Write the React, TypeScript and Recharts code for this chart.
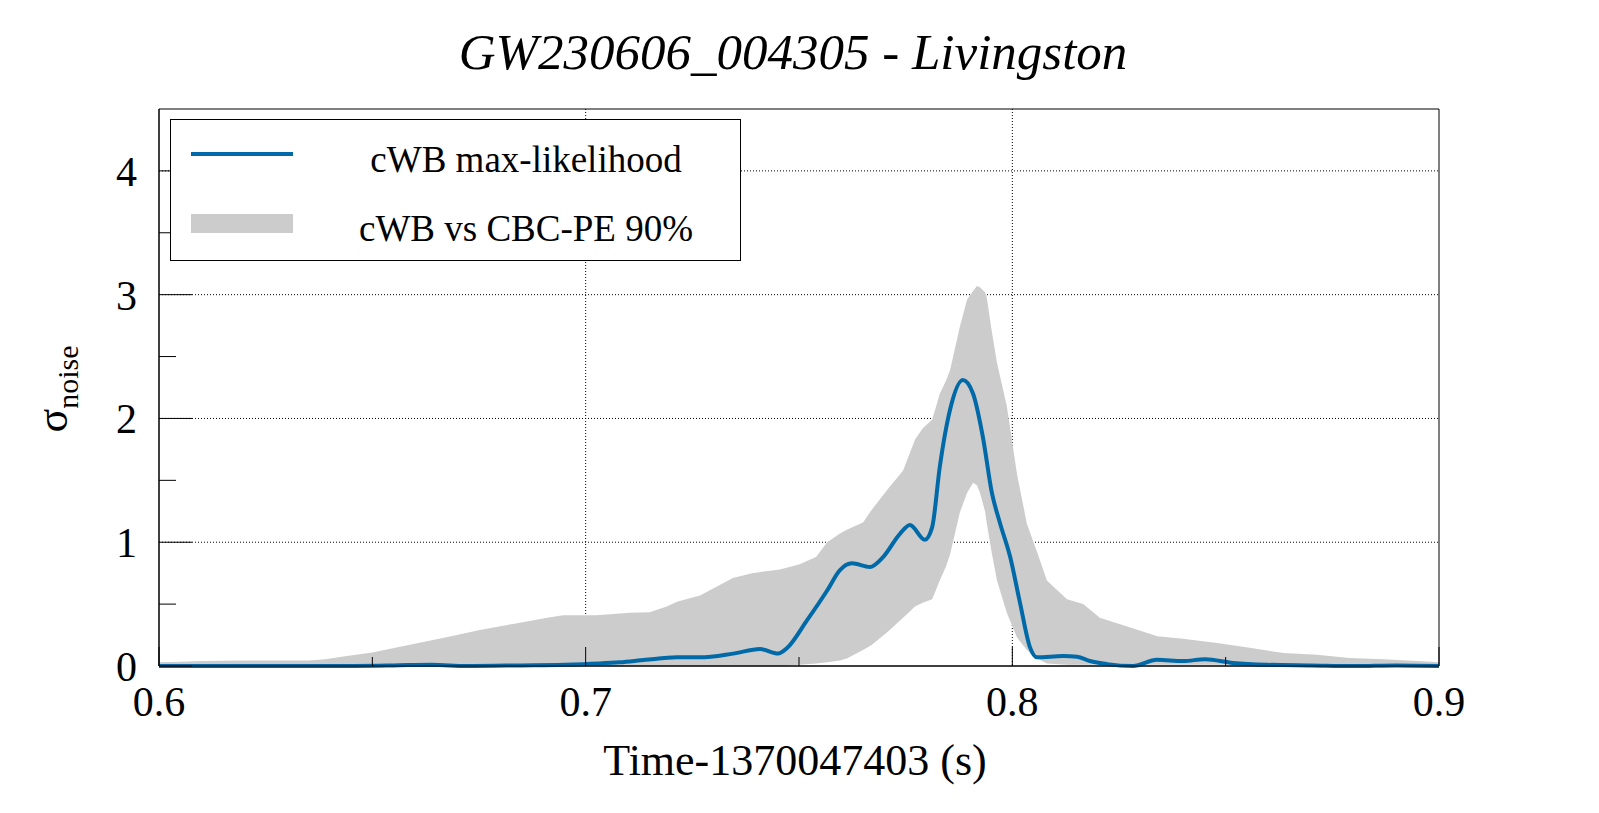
import { ComposedChart, Area, Line, XAxis, YAxis, CartesianGrid, Legend, ReferenceArea } from 'recharts';

const FONT = '"Liberation Serif", "Times New Roman", serif';

// axis ticks (major ones get a label)
const xMajorTicks = [0.6, 0.7, 0.8, 0.9];
const xMinorTicks = [0.65, 0.75, 0.85];
const yMajorTicks = [0, 1, 2, 3, 4];
const yMinorTicks = [0.5, 1.5, 2.5, 3.5];
const xGridLines = [0.7, 0.8];
const yGridLines = [1, 2, 3, 4];

// cWB vs CBC-PE 90% band
const bandTime = [
  0.6, 0.605, 0.61, 0.62, 0.635, 0.639, 0.644, 0.65, 0.6565, 0.6628, 0.669, 0.6752, 0.683, 0.691, 0.6947,
  0.7026, 0.7104, 0.715, 0.719, 0.7214, 0.7268, 0.7345, 0.739, 0.7455, 0.75, 0.754, 0.7566, 0.7596, 0.7612,
  0.765, 0.767, 0.7706, 0.7744, 0.7772, 0.779, 0.7812, 0.783, 0.7844, 0.7854, 0.7877, 0.7894, 0.7908,
  0.7917, 0.7924, 0.7936, 0.794, 0.7952, 0.7964, 0.7987, 0.8011, 0.8034, 0.8058, 0.8081, 0.8128, 0.8166,
  0.8205, 0.826, 0.834, 0.84, 0.848, 0.856, 0.8635, 0.8714, 0.879, 0.887, 0.895, 0.9,
];
const bandHigh = [
  0.03, 0.035, 0.04, 0.045, 0.045, 0.055, 0.08, 0.11, 0.155, 0.2, 0.245, 0.29, 0.34, 0.39, 0.41,
  0.41, 0.43, 0.435, 0.48, 0.52, 0.57, 0.71, 0.75, 0.78, 0.82, 0.88, 1.0, 1.07, 1.1,
  1.16, 1.26, 1.42, 1.58, 1.83, 1.92, 1.99, 2.2, 2.3, 2.39, 2.74, 2.96, 3.03,
  3.07, 3.06, 3.02, 2.98, 2.7, 2.45, 2.1, 1.55, 1.15, 0.92, 0.69, 0.54, 0.5,
  0.39, 0.33, 0.24, 0.22, 0.185, 0.145, 0.105, 0.09, 0.065, 0.055, 0.04, 0.03,
];
const bandLow = [
  0, 0, 0, 0, 0, 0, 0, 0, 0, 0, 0, 0, 0, 0, 0,
  0, 0, 0, 0, 0, 0, 0, 0, 0, 0.01, 0.02, 0.03, 0.045, 0.06,
  0.13, 0.17, 0.27, 0.39, 0.48, 0.51, 0.54, 0.69, 0.8, 0.9, 1.24, 1.4, 1.48,
  1.46, 1.4, 1.25, 1.155, 0.91, 0.69, 0.43, 0.23, 0.13, 0.06, 0.02, 0.01, 0.01,
  0.01, 0.01, 0.01, 0.01, 0.01, 0.01, 0.01, 0.005, 0.005, 0, 0, 0,
];

// cWB max-likelihood
const lineTime = [
  0.6, 0.62, 0.64, 0.655, 0.664, 0.672, 0.685, 0.695, 0.703, 0.708, 0.714, 0.7214, 0.7268, 0.7345,
  0.7409, 0.7451, 0.7472, 0.7519, 0.7566, 0.7596, 0.7624, 0.7666, 0.7697, 0.7737, 0.776, 0.7795,
  0.7812, 0.783, 0.7854, 0.7884, 0.7908, 0.7931, 0.7952, 0.7971, 0.7995, 0.8018, 0.8041, 0.8058,
  0.8119, 0.8152, 0.8182, 0.8222, 0.8283, 0.8339, 0.84, 0.8452, 0.8517, 0.8597, 0.87, 0.88, 0.89, 0.9,
];
const lineValue = [
  0, 0, 0, 0.005, 0.01, 0, 0.005, 0.01, 0.02, 0.03, 0.05, 0.07, 0.07, 0.1,
  0.137, 0.1, 0.145, 0.37, 0.61, 0.775, 0.83, 0.8, 0.88, 1.07, 1.14, 1.02,
  1.12, 1.61, 2.07, 2.31, 2.2, 1.85, 1.4, 1.155, 0.88, 0.51, 0.155, 0.07,
  0.08, 0.075, 0.04, 0.015, 0, 0.05, 0.04, 0.055, 0.025, 0.01, 0.005, 0, 0.005, 0,
];

const xTicks = [...xMajorTicks, ...xMinorTicks].sort((a, b) => a - b);
const yTicks = [...yMajorTicks, ...yMinorTicks].sort((a, b) => a - b);

type Row = { t: number; lo?: number; hi?: number; v?: number };

const rows: Row[] = [
  ...bandTime.map((t, i) => ({ t, lo: bandLow[i], hi: bandHigh[i] })),
  ...lineTime.map((t, i) => ({ t, v: lineValue[i] })),
].sort((a, b) => a.t - b.t);

const bandKey = (d: Row) => (d.hi == null ? [null, null] : [d.lo, d.hi]);

const renderXTick = (props: any) => {
  const { x, y, payload } = props;
  const major = xMajorTicks.includes(payload.value);
  const axisY = y - 20;
  return (
    <g>
      <line x1={x} x2={x} y1={axisY} y2={axisY - (major ? 19 : 9)} stroke="#000" />
      {major && (
        <text x={x} y={y} dy="0.71em" textAnchor="middle" fontSize={42} fontFamily={FONT} fill="#000">
          {payload.value.toFixed(1)}
        </text>
      )}
    </g>
  );
};

const renderYTick = (props: any) => {
  const { x, y, payload } = props;
  const major = yMajorTicks.includes(payload.value);
  const axisX = x + 22;
  return (
    <g>
      <line x1={axisX} x2={axisX + (major ? 33 : 17)} y1={y} y2={y} stroke="#000" />
      {major && (
        <text x={x} y={y} dy="0.355em" textAnchor="end" fontSize={42} fontFamily={FONT} fill="#000">
          {String(payload.value)}
        </text>
      )}
    </g>
  );
};

const renderLegend = (props: any) => {
  const entries = [...(props.payload ?? [])].sort(
    (a: any, b: any) => (a.type === 'line' ? 0 : 1) - (b.type === 'line' ? 0 : 1)
  );
  return (
    <svg width={571} height={142} style={{ display: 'block' }}>
      <rect x={0.5} y={0.5} width={570} height={141} fill="#fff" stroke="#000" />
      {entries.map((e: any, i: number) => {
        const cy = 35 + i * 69;
        return (
          <g key={e.value}>
            {e.type === 'line' ? (
              <line x1={21} x2={123} y1={cy} y2={cy} stroke={e.color} strokeWidth={4} />
            ) : (
              <rect x={21} y={cy - 9} width={102} height={19} fill={e.color} />
            )}
            <text x={356} y={cy + 18} textAnchor="middle" fontSize={37} fontFamily={FONT} fill="#000">
              {e.value}
            </text>
          </g>
        );
      })}
    </svg>
  );
};

export default function App() {
  return (
    <div style={{ position: 'absolute', left: 0, top: 0, width: 1599, height: 813, background: '#fff' }}>
      <ComposedChart width={1599} height={813} data={rows} margin={{ top: 109, right: 160, bottom: 0, left: 0 }}>
        <CartesianGrid
          horizontalValues={yGridLines}
          verticalValues={xGridLines}
          stroke="#000"
          strokeDasharray="1 2"
        />
        <XAxis
          dataKey="t"
          type="number"
          domain={[0.6, 0.9]}
          ticks={xTicks}
          interval={0}
          height={147}
          tickSize={0}
          tickMargin={20}
          tickLine={false}
          axisLine={{ stroke: '#000' }}
          tick={renderXTick}
        />
        <YAxis
          type="number"
          domain={[0, 4.5]}
          ticks={yTicks}
          interval={0}
          width={159}
          tickSize={0}
          tickMargin={22}
          tickLine={false}
          axisLine={{ stroke: '#000' }}
          tick={renderYTick}
        />
        <Area
          type="linear"
          dataKey={bandKey}
          name="cWB vs CBC-PE 90%"
          fill="#cccccc"
          fillOpacity={1}
          stroke="none"
          legendType="rect"
          connectNulls
          dot={false}
          activeDot={false}
          isAnimationActive={false}
        />
        <Line
          type="monotone"
          dataKey="v"
          name="cWB max-likelihood"
          stroke="#0069a8"
          strokeWidth={4}
          legendType="line"
          connectNulls
          dot={false}
          activeDot={false}
          isAnimationActive={false}
        />
        <ReferenceArea x1={0.6} x2={0.9} y1={0} y2={4.5} fill="none" stroke="#000" strokeWidth={1} ifOverflow="visible" />
        <Legend
          layout="vertical"
          align="center"
          verticalAlign="middle"
          content={renderLegend}
          wrapperStyle={{ left: 170, top: 119, width: 571, height: 142 }}
        />
      </ComposedChart>
      <svg
        width={1599}
        height={813}
        style={{ position: 'absolute', left: 0, top: 0, pointerEvents: 'none' }}
        fontFamily={FONT}
      >
        <text x={793} y={69} textAnchor="middle" fontSize={51} fontStyle="italic" fill="#000">
          GW230606_004305 - Livingston
        </text>
        <text x={795} y={775} textAnchor="middle" fontSize={44} fill="#000">
          Time-1370047403 (s)
        </text>
        <g transform="translate(67 389) rotate(-90)">
          <text textAnchor="middle" fontSize={44} fill="#000">
            σ<tspan dy={11} fontSize={30}>noise</tspan>
          </text>
        </g>
      </svg>
    </div>
  );
}
